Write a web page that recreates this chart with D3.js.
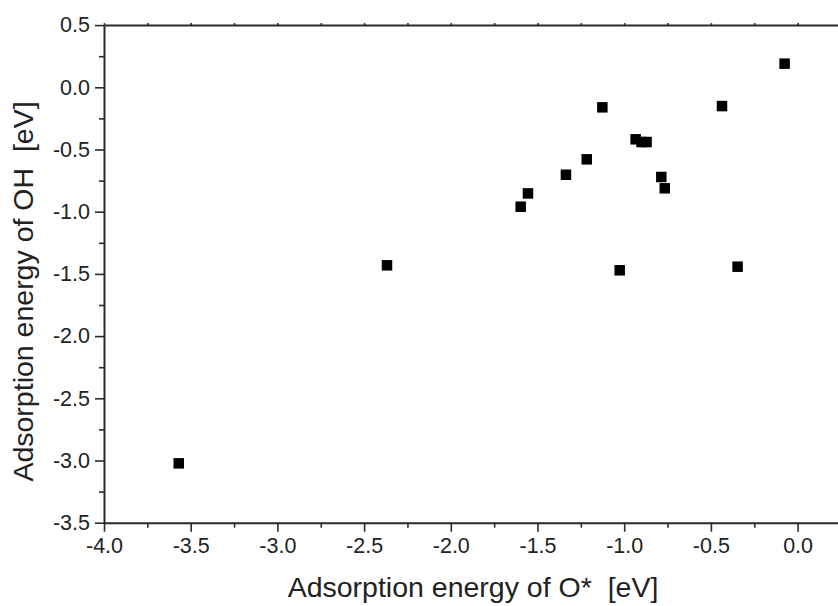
<!DOCTYPE html>
<html><head><meta charset="utf-8">
<script src="https://cdn.jsdelivr.net/npm/d3@7"></script>
<style>html,body{margin:0;padding:0;background:#fff;}svg{display:block;}</style>
</head><body>
<script>
const xValues = [-3.569, -2.368, -1.597, -1.555, -1.336, -1.216, -1.126, -0.934, -0.900, -0.871, -1.026, -0.786, -0.766, -0.436, -0.346, -0.075];
const yValues = [-3.023, -1.431, -0.960, -0.853, -0.703, -0.579, -0.161, -0.418, -0.440, -0.440, -1.471, -0.721, -0.812, -0.151, -1.442, 0.190];
const xTicks = [-4.0, -3.5, -3.0, -2.5, -2.0, -1.5, -1.0, -0.5, 0.0];
const yTicks = [0.5, 0.0, -0.5, -1.0, -1.5, -2.0, -2.5, -3.0, -3.5];
const xTitle = "Adsorption energy of O*  [eV]";
const yTitle = "Adsorption energy of OH  [eV]";

const W = 838, H = 606;
const svg = d3.select("body").append("svg").attr("width", W).attr("height", H);
const x = d3.scaleLinear().domain([-4.0, 0.25]).range([104, 104 + 8.5 * 86.7]);
const y = d3.scaleLinear().domain([-3.5, 0.5]).range([522.7, 25.1]);

const font = "'Liberation Sans', Arial, sans-serif";
const axisColor = "#2a2a2a";
const fmt = d => d.toFixed(1);

function stepVals(dom, step) {
  const out = [];
  for (let v = dom[0]; v <= dom[1] + 1e-9; v += step) out.push(+v.toFixed(4));
  return out;
}
const xMinor = stepVals([-4.0, 0.25], 0.25).filter(v => !xTicks.some(t => Math.abs(t - v) < 1e-6));
const yMinor = stepVals([-3.5, 0.5], 0.25).filter(v => !yTicks.some(t => Math.abs(t - v) < 1e-6));

// bottom axis
const gx = svg.append("g").attr("transform", `translate(0,${y(-3.5)})`)
  .call(d3.axisBottom(x).tickValues(xTicks).tickFormat(fmt).tickSize(9).tickPadding(6).tickSizeOuter(0));
gx.append("g").call(d3.axisBottom(x).tickValues(xMinor).tickFormat("").tickSize(5).tickSizeOuter(0)).select(".domain").remove();

// left axis
const gy = svg.append("g").attr("transform", `translate(${x(-4.0)},0)`)
  .call(d3.axisLeft(y).tickValues(yTicks).tickFormat(fmt).tickSize(9).tickPadding(5).tickSizeOuter(0));
gy.append("g").call(d3.axisLeft(y).tickValues(yMinor).tickFormat("").tickSize(5).tickSizeOuter(0)).select(".domain").remove();

// top frame line with tiny ticks
svg.append("g").attr("transform", `translate(0,${y(0.5)})`)
  .call(d3.axisTop(x).tickValues(stepVals([-4.0, 0.25], 0.25)).tickFormat("").tickSize(2).tickSizeOuter(0));

svg.selectAll(".domain").attr("stroke", axisColor).attr("stroke-width", 2);
svg.selectAll(".tick line").attr("stroke", axisColor).attr("stroke-width", 1.6);
svg.selectAll(".tick text").attr("font-family", font).attr("font-size", 21.5).attr("fill", "#222");

// points
const data = xValues.map((v, i) => ({x: v, y: yValues[i]}));
const s = 10.5;
svg.append("g").selectAll("rect").data(data).join("rect")
  .attr("x", d => x(d.x) - s / 2).attr("y", d => y(d.y) - s / 2)
  .attr("width", s).attr("height", s).attr("fill", "#000");

// titles
svg.append("text").attr("x", 473).attr("y", 597).attr("text-anchor", "middle")
  .attr("font-family", font).attr("font-size", 28.5).attr("fill", "#222")
  .style("white-space", "pre").text(xTitle);
svg.append("text").attr("transform", `translate(33,291.5) rotate(-90)`).attr("text-anchor", "middle")
  .attr("font-family", font).attr("font-size", 28.5).attr("fill", "#222")
  .style("white-space", "pre").text(yTitle);
</script>
</body></html>
